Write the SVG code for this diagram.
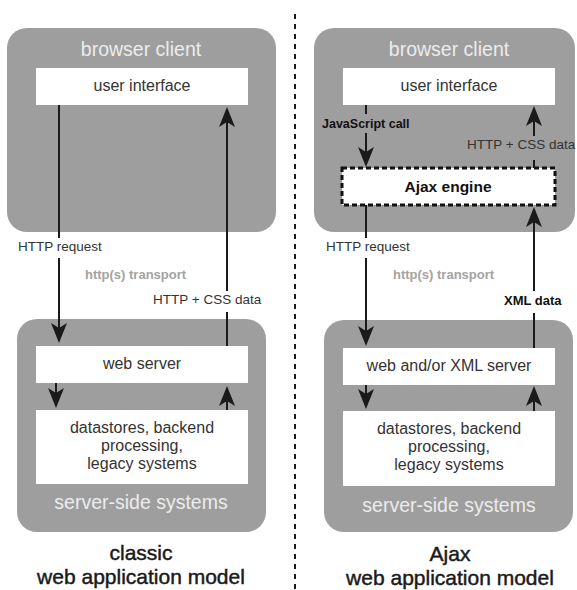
<svg xmlns="http://www.w3.org/2000/svg" width="577" height="590" viewBox="0 0 577 590">
<style>
.panel{fill:#9e9e9f}
.box{fill:#ffffff}
.title{font-family:"Liberation Sans",Arial,sans-serif;font-size:19.5px;fill:#ececec;text-anchor:middle}
.lbl{font-family:"Liberation Sans",Arial,sans-serif;font-size:16px;fill:#333;text-anchor:middle}
.small{font-family:"Liberation Sans",Arial,sans-serif;font-size:13.5px;fill:#333}
.bold{font-family:"Liberation Sans",Arial,sans-serif;font-weight:bold;fill:#111}
.trans{font-family:"Liberation Sans",Arial,sans-serif;font-weight:bold;font-size:13px;fill:#a3a3a3}
.cap{font-family:"Liberation Sans",Arial,sans-serif;font-size:21px;fill:#1a1a1a;stroke:#1a1a1a;stroke-width:0.45;text-anchor:middle}
.ln{stroke:#1a1a1a;stroke-width:2;fill:none}
.arr{stroke:#1a1a1a;stroke-width:2;fill:none;marker-end:url(#ah)}
</style>
<defs>
<marker id="ah" viewBox="0 0 20 16" markerWidth="20" markerHeight="16" refX="10" refY="8" orient="auto" markerUnits="userSpaceOnUse">
<path d="M0,0 L20,8 L0,16 L5,8 z" fill="#1a1a1a"/>
</marker>
</defs>
<rect width="577" height="590" fill="#ffffff"/>

<!-- divider -->
<line x1="295" y1="14" x2="295" y2="590" stroke="#1a1a1a" stroke-width="2" stroke-dasharray="5 5"/>

<!-- Left: classic -->
<g id="left-browser">
<rect class="panel" x="7" y="28" width="269" height="204" rx="20"/>
<text class="title" x="141" y="56">browser client</text>
</g>
<g id="left-ui">
<rect class="box" x="36" y="68" width="212" height="37"/>
<text class="lbl" x="142" y="91">user interface</text>
</g>
<g id="left-server">
<rect class="panel" x="17" y="319" width="249" height="213" rx="20"/>
<text class="title" x="141" y="509">server-side systems</text>
</g>
<g id="left-web">
<rect class="box" x="36" y="346" width="212" height="37"/>
<text class="lbl" x="142" y="369">web server</text>
</g>
<g id="left-data">
<rect class="box" x="36" y="410" width="212" height="74"/>
<text class="lbl" x="142" y="433">datastores, backend</text>
<text class="lbl" x="142" y="451">processing,</text>
<text class="lbl" x="142" y="469">legacy systems</text>
</g>
<g id="left-caption">
<text class="cap" x="141" y="560">classic</text>
<text class="cap" x="141" y="584">web application model</text>
</g>

<!-- Right: Ajax -->
<g id="right-browser">
<rect class="panel" x="314" y="28" width="261" height="204" rx="20"/>
<text class="title" x="449" y="56">browser client</text>
</g>
<g id="right-ui">
<rect class="box" x="343" y="68" width="212" height="37"/>
<text class="lbl" x="449" y="91">user interface</text>
</g>
<g id="right-ajax">
<rect x="342" y="168" width="213" height="37" fill="#ffffff" stroke="#111" stroke-width="3" stroke-dasharray="5 3"/>
<text class="bold" x="448" y="192" font-size="15.5" text-anchor="middle">Ajax engine</text>
</g>
<g id="right-server">
<rect class="panel" x="324" y="320" width="249" height="212" rx="20"/>
<text class="title" x="449" y="512">server-side systems</text>
</g>
<g id="right-web">
<rect class="box" x="343" y="348" width="212" height="37"/>
<text class="lbl" x="449" y="371">web and/or XML server</text>
</g>
<g id="right-data">
<rect class="box" x="343" y="411" width="212" height="75"/>
<text class="lbl" x="449" y="434">datastores, backend</text>
<text class="lbl" x="449" y="452">processing,</text>
<text class="lbl" x="449" y="470">legacy systems</text>
</g>
<g id="right-caption">
<text class="cap" x="450" y="561">Ajax</text>
<text class="cap" x="450" y="585">web application model</text>
</g>

<!-- connectors -->
<g id="connectors">
<!-- left -->
<line class="ln" x1="59" y1="105" x2="59" y2="238"/>
<line class="arr" x1="59" y1="258" x2="59" y2="333"/>
<text class="small" x="18" y="251">HTTP request</text>
<text class="trans" x="85" y="279">http(s) transport</text>
<line class="ln" x1="227" y1="346" x2="227" y2="312"/>
<line class="arr" x1="227" y1="291" x2="227" y2="117"/>
<text class="small" x="153" y="304">HTTP + CSS data</text>
<line class="arr" x1="56" y1="383" x2="56" y2="398"/>
<line class="arr" x1="227" y1="410" x2="227" y2="396"/>

<!-- right -->
<line class="ln" x1="366" y1="105" x2="366" y2="114"/>
<line class="arr" x1="366" y1="133" x2="366" y2="157"/>
<text class="bold" x="322" y="128" font-size="12.5">JavaScript call</text>
<line class="ln" x1="534" y1="168" x2="534" y2="160"/>
<line class="arr" x1="534" y1="136" x2="534" y2="116"/>
<text class="small" x="467" y="149">HTTP + CSS data</text>
<line class="ln" x1="366" y1="205" x2="366" y2="238"/>
<line class="arr" x1="366" y1="258" x2="366" y2="336"/>
<text class="small" x="326" y="251">HTTP request</text>
<text class="trans" x="393" y="279">http(s) transport</text>
<line class="ln" x1="534" y1="348" x2="534" y2="313"/>
<line class="arr" x1="534" y1="291" x2="534" y2="217"/>
<text class="bold" x="504" y="305" font-size="13">XML data</text>
<line class="arr" x1="366" y1="385" x2="366" y2="399"/>
<line class="arr" x1="534" y1="411" x2="534" y2="396"/>
</g>
</svg>
